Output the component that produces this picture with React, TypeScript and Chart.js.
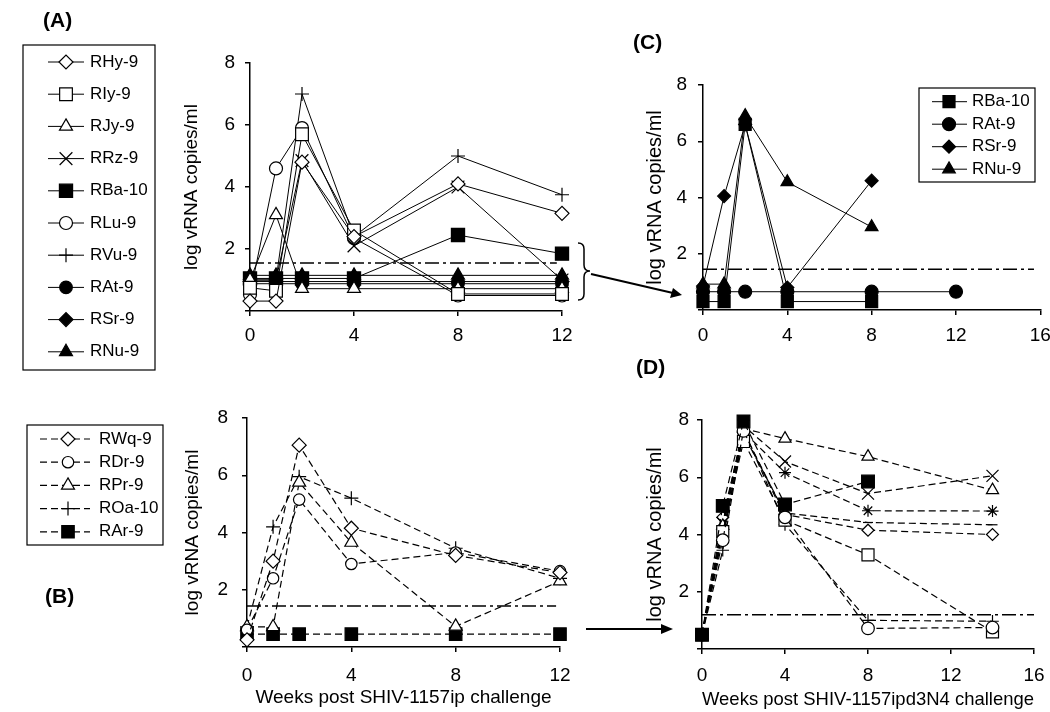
import React, { useEffect, useRef } from 'react';
import { Chart, registerables } from 'chart.js';
import { drawPoint } from 'chart.js/helpers';

Chart.register(...registerables);

const FONT = '"Liberation Sans", Arial, Helvetica, sans-serif';
Chart.defaults.font.family = FONT;
Chart.defaults.color = '#000';

// ---------------- Panel A (weeks 0-12) ----------------
const weeksA = [0, 1, 2, 4, 8, 12];
const namesA = ['RHy-9', 'RIy-9', 'RJy-9', 'RRz-9', 'RBa-10', 'RLu-9', 'RVu-9', 'RAt-9', 'RSr-9', 'RNu-9'];
const A_RHy9 = [0.32, 0.32, 4.8, 2.4, 4.1, 3.15];
const A_RIy9 = [0.75, 0.65, 5.7, 2.6, 0.55, 0.55];
const A_RJy9 = [1.0, 3.1, 0.72, 0.72, 0.72, 0.72];
const A_RRz9 = [1.0, 1.0, 4.85, 2.1, 4.0, 1.0];
const A_RBa10 = [1.05, 1.05, 1.05, 1.05, 2.45, 1.85];
const A_RLu9 = [0.53, 4.6, 5.9, 2.35, 0.5, 0.5];
const A_RVu9 = [1.0, 1.0, 7.0, 2.4, 5.0, 3.75];
const A_RAt9 = [0.88, 0.88, 0.88, 0.88, 0.88, 0.88];
const A_RSr9 = [0.95, 0.95, 0.95, 0.95, 0.95, 0.95];
const A_RNu9 = [1.15, 1.15, 1.15, 1.15, 1.15, 1.15];
const limitA = 1.55;
const limitA_x = [0, 11.8];

// ---------------- Panel B (weeks 0-12) ----------------
const weeksB = [0, 1, 2, 4, 8, 12];
const namesB = ['RWq-9', 'RDr-9', 'RPr-9', 'ROa-10', 'RAr-9'];
const B_RWq9 = [0.25, 3.0, 7.05, 4.15, 3.2, 2.6];
const B_RDr9 = [0.6, 2.4, 5.15, 2.9, 3.3, 2.65];
const B_RPr9 = [0.7, 0.7, 5.75, 3.65, 0.72, 2.3];
const B_ROa10 = [0.7, 4.2, 5.95, 5.2, 3.45, 2.4];
const B_RAr9 = [0.45, 0.45, 0.45, 0.45, 0.45, 0.45];
const limitB = 1.43;
const limitB_x = [0, 11.85];

// ---------------- Panel C (weeks 0-16) ----------------
const weeksC = [0, 1, 2, 4, 8, 12];
const namesC = ['RBa-10', 'RAt-9', 'RSr-9', 'RNu-9'];
const C_RBa10 = [0.3, 0.3, 6.6, 0.3, 0.3, null];
const C_RAt9 = [0.65, 0.65, 0.65, 0.65, 0.65, 0.65];
const C_RSr9 = [0.85, 4.05, 6.6, 0.8, 4.6, null];
const C_RNu9 = [0.92, 0.92, 6.9, 4.55, 2.95, null];
const limitC = 1.45;
const limitC_x = [0, 15.7];

// ---------------- Panel D (weeks 0-16) ----------------
const weeksD = [0, 1, 2, 4, 8, 14];
const D_fsquare = [0.5, 5.0, 7.95, 5.05, 5.85, null];
const D_tri = [0.5, 4.3, 7.7, 7.35, 6.72, 5.55];
const D_x = [0.5, 4.4, 7.8, 6.55, 5.43, 6.05];
const D_star = [0.5, 4.2, 7.6, 6.16, 4.83, 4.82];
const D_dash = [0.5, 4.0, 7.5, 4.75, 4.42, 4.34];
const D_diamond = [0.5, 4.6, 7.6, 4.7, 4.15, 4.0];
const D_square = [0.5, 4.1, 7.25, 4.5, 3.29, 0.6];
const D_circle = [0.5, 3.8, 7.62, 4.6, 0.72, 0.75];
const D_plus = [0.5, 3.45, 7.65, 4.35, 1.0, 0.97];
const limitD = 1.2;
const limitD_x = [0, 16];

const yTicks = [0, 2, 4, 6, 8];
const yTitle = 'log vRNA copies/ml';
const xTitleB = 'Weeks post SHIV-1157ip challenge';
const xTitleD = 'Weeks post SHIV-1157ipd3N4 challenge';

type Mk = { style: string; r: number; fill: boolean };

function series(label: string, xs: number[], ys: (number | null)[], m: Mk, dashed: boolean) {
  const data: any[] = [];
  xs.forEach((x, i) => {
    const y = ys[i];
    if (y !== null && y !== undefined) data.push({ x, y });
  });
  return {
    label,
    data,
    borderColor: '#000',
    borderWidth: dashed ? 1.2 : 1,
    borderDash: dashed ? [7, 4] : [],
    pointStyle: m.style,
    pointRadius: m.r,
    pointBorderWidth: 1.2,
    pointBackgroundColor: m.fill ? '#000' : '#fff',
    pointBorderColor: '#000',
    fill: false,
    tension: 0,
    clip: false,
    inLegend: true,
  };
}

function limitLine(y: number, xs: number[]) {
  return {
    label: 'limit',
    data: xs.map((x) => ({ x, y })),
    borderColor: '#000',
    borderWidth: 1.5,
    borderDash: [14, 4, 3, 4],
    pointRadius: 0,
    fill: false,
    clip: false,
    inLegend: false,
  };
}

const boxLegend = {
  id: 'boxLegend',
  afterDatasetsDraw(chart: any, _args: any, opts: any) {
    if (!opts || !opts.show) return;
    const ctx = chart.ctx;
    ctx.save();
    ctx.setLineDash([]);
    ctx.lineWidth = 1.2;
    ctx.strokeStyle = '#000';
    ctx.strokeRect(opts.x, opts.y, opts.w, opts.h);
    ctx.font = `${opts.fontSize}px ${FONT}`;
    ctx.textBaseline = 'middle';
    ctx.textAlign = 'left';
    let i = 0;
    chart.data.datasets.forEach((ds: any) => {
      if (!ds.inLegend) return;
      const y = opts.y0 + i * opts.dy;
      ctx.strokeStyle = '#000';
      ctx.setLineDash(ds.borderDash || []);
      ctx.lineWidth = ds.borderWidth;
      ctx.beginPath();
      ctx.moveTo(opts.lx0, y);
      ctx.lineTo(opts.lx1, y);
      ctx.stroke();
      ctx.setLineDash([]);
      ctx.lineWidth = ds.pointBorderWidth;
      ctx.fillStyle = ds.pointBackgroundColor;
      drawPoint(ctx, { pointStyle: ds.pointStyle, radius: ds.pointRadius, rotation: 0, borderWidth: ds.pointBorderWidth }, opts.mx, y);
      ctx.fillStyle = '#000';
      ctx.fillText(ds.label, opts.tx, y);
      i++;
    });
    ctx.restore();
  },
};

function scales(o: any) {
  const grid = { display: true, drawOnChartArea: false, drawTicks: true, tickLength: 5, color: '#000', lineWidth: 1.5 };
  const border = { display: true, color: '#000', width: 1.5 };
  return {
    x: {
      type: 'linear',
      min: 0,
      max: o.xMax,
      ticks: { stepSize: 4, padding: o.xTickPad, font: { size: 19 }, color: '#000', maxRotation: 0, autoSkip: false },
      grid,
      border,
      title: o.xTitle
        ? { display: true, text: o.xTitle, font: { size: 19 }, color: '#000', padding: { top: 0, bottom: 0 } }
        : { display: false },
      afterFit: (s: any) => {
        s.height = o.xHeight;
        s.paddingLeft = 0;
        s.paddingRight = 0;
      },
    },
    y: {
      type: 'linear',
      min: 0,
      max: 8,
      afterBuildTicks: (s: any) => {
        s.ticks = yTicks.map((v) => ({ value: v }));
      },
      ticks: {
        padding: o.yTickPad,
        font: { size: 19 },
        color: '#000',
        callback: (v: any) => (v === 0 ? '' : String(v)),
      },
      grid,
      border,
      title: { display: true, text: yTitle, font: { size: o.yTitleSize || 19 }, color: '#000', padding: { top: o.yTitlePad, bottom: 0 } },
      afterFit: (s: any) => {
        s.width = o.yWidth;
        s.paddingTop = 0;
        s.paddingBottom = 0;
      },
    },
  };
}

function makeConfig(datasets: any[], padding: any, sc: any, legendOpts: any) {
  return {
    type: 'line',
    data: { datasets },
    plugins: [boxLegend],
    options: {
      animation: false,
      responsive: false,
      devicePixelRatio: 1,
      events: [],
      layout: { padding },
      plugins: {
        legend: { display: false },
        tooltip: { enabled: false },
        boxLegend: legendOpts,
      },
      scales: sc,
    },
  };
}

const mk = {
  diamond: { style: 'rectRot', r: 7, fill: false },
  square: { style: 'rect', r: 9, fill: false },
  tri: { style: 'triangle', r: 7.5, fill: false },
  xcross: { style: 'crossRot', r: 9, fill: false },
  fsquare: { style: 'rect', r: 9.3, fill: true },
  circle: { style: 'circle', r: 6.5, fill: false },
  plus: { style: 'cross', r: 7, fill: false },
  fcircle: { style: 'circle', r: 6.3, fill: true },
  fdiamond: { style: 'rectRot', r: 7, fill: true },
  ftri: { style: 'triangle', r: 7.5, fill: true },
};

function configA() {
  const ds = [
    series(namesA[0], weeksA, A_RHy9, mk.diamond, false),
    series(namesA[1], weeksA, A_RIy9, mk.square, false),
    series(namesA[2], weeksA, A_RJy9, mk.tri, false),
    series(namesA[3], weeksA, A_RRz9, mk.xcross, false),
    series(namesA[4], weeksA, A_RBa10, mk.fsquare, false),
    series(namesA[5], weeksA, A_RLu9, mk.circle, false),
    series(namesA[6], weeksA, A_RVu9, mk.plus, false),
    series(namesA[7], weeksA, A_RAt9, mk.fcircle, false),
    series(namesA[8], weeksA, A_RSr9, mk.fdiamond, false),
    series(namesA[9], weeksA, A_RNu9, mk.ftri, false),
    limitLine(limitA, limitA_x),
  ];
  return makeConfig(
    ds,
    { left: 180, top: 63, right: 38, bottom: 27 },
    scales({ xMax: 12, xTickPad: 8, xHeight: 40, yTickPad: 10, yWidth: 70, yTitlePad: 0 }),
    { show: true, x: 23, y: 45, w: 132, h: 325, y0: 62, dy: 32.2, lx0: 48, lx1: 84, mx: 66, tx: 90, fontSize: 17 }
  );
}

function configB() {
  const ds = [
    series(namesB[0], weeksB, B_RWq9, { style: 'rectRot', r: 7, fill: false }, true),
    series(namesB[1], weeksB, B_RDr9, { style: 'circle', r: 5.7, fill: false }, true),
    series(namesB[2], weeksB, B_RPr9, { style: 'triangle', r: 7.5, fill: false }, true),
    series(namesB[3], weeksB, B_ROa10, { style: 'cross', r: 7, fill: false }, true),
    series(namesB[4], weeksB, B_RAr9, { style: 'rect', r: 8.8, fill: true }, true),
    limitLine(limitB, limitB_x),
  ];
  return makeConfig(
    ds,
    { left: 177, top: 38, right: 40, bottom: 3 },
    scales({ xMax: 12, xTickPad: 12, xHeight: 62, xTitle: xTitleB, yTickPad: 14, yWidth: 70, yTitlePad: 4.6 }),
    { show: true, x: 27, y: 45, w: 136, h: 120, y0: 59, dy: 23.2, lx0: 40, lx1: 90, mx: 68, tx: 99, fontSize: 17 }
  );
}

function configC() {
  const ds = [
    series(namesC[0], weeksC, C_RBa10, { style: 'rect', r: 8.5, fill: true }, false),
    series(namesC[1], weeksC, C_RAt9, { style: 'circle', r: 6.5, fill: true }, false),
    series(namesC[2], weeksC, C_RSr9, { style: 'rectRot', r: 6.5, fill: true }, false),
    series(namesC[3], weeksC, C_RNu9, { style: 'triangle', r: 7.3, fill: true }, false),
    limitLine(limitC, limitC_x),
  ];
  return makeConfig(
    ds,
    { left: 33, top: 85, right: 9, bottom: 28 },
    scales({ xMax: 16, xTickPad: 9, xHeight: 40, yTickPad: 11, yWidth: 70, yTitlePad: 10, yTitleSize: 20 }),
    { show: true, x: 319, y: 88, w: 116, h: 94, y0: 101.7, dy: 22.5, lx0: 332, lx1: 367, mx: 349, tx: 372, fontSize: 17 }
  );
}

function configD() {
  const ds = [
    series('Animal 1', weeksD, D_fsquare, { style: 'rect', r: 9, fill: true }, true),
    series('Animal 2', weeksD, D_circle, { style: 'circle', r: 6.3, fill: false }, true),
    series('Animal 3', weeksD, D_square, { style: 'rect', r: 8.5, fill: false }, true),
    series('Animal 4', weeksD, D_tri, { style: 'triangle', r: 7, fill: false }, true),
    series('Animal 5', weeksD, D_x, { style: 'crossRot', r: 8.5, fill: false }, true),
    series('Animal 6', weeksD, D_star, { style: 'star', r: 6, fill: false }, true),
    series('Animal 7', weeksD, D_diamond, { style: 'rectRot', r: 6, fill: false }, true),
    series('Animal 8', weeksD, D_dash, { style: 'line', r: 5, fill: false }, true),
    series('Animal 9', weeksD, D_plus, { style: 'cross', r: 6.3, fill: false }, true),
    limitLine(limitD, limitD_x),
  ];
  return makeConfig(
    ds,
    { left: 32, top: 40, right: 16, bottom: 1 },
    scales({ xMax: 16, xTickPad: 10, xHeight: 62, xTitle: xTitleD, yTickPad: 8, yWidth: 70, yTitlePad: 11, yTitleSize: 20 }),
    { show: false }
  );
}

function Panel({ left, top, width, height, make }: any) {
  const ref = useRef<HTMLCanvasElement | null>(null);
  useEffect(() => {
    if (!ref.current) return;
    const chart = new Chart(ref.current, make() as any);
    return () => chart.destroy();
  }, []);
  return (
    <canvas
      ref={ref}
      width={width}
      height={height}
      style={{ position: 'absolute', left, top, width, height }}
    />
  );
}

const labelStyle: any = {
  position: 'absolute',
  fontFamily: FONT,
  fontWeight: 'bold',
  fontSize: 21,
  lineHeight: '21px',
  color: '#000',
  margin: 0,
  whiteSpace: 'nowrap',
};

export default function App() {
  return (
    <div style={{ position: 'absolute', left: 0, top: 0, width: 1050, height: 712, background: '#fff', overflow: 'hidden' }}>
      <Panel left={0} top={0} width={600} height={378} make={configA} />
      <Panel left={0} top={380} width={600} height={332} make={configB} />
      <Panel left={600} top={0} width={450} height={378} make={configC} />
      <Panel left={600} top={380} width={450} height={332} make={configD} />
      <div style={{ ...labelStyle, left: 43, top: 9 }}>(A)</div>
      <div style={{ ...labelStyle, left: 45, top: 585 }}>(B)</div>
      <div style={{ ...labelStyle, left: 633, top: 31 }}>(C)</div>
      <div style={{ ...labelStyle, left: 636, top: 356 }}>(D)</div>
      <svg width={1050} height={712} style={{ position: 'absolute', left: 0, top: 0, pointerEvents: 'none' }}>
        <path
          d="M578,243 Q584,243 584,249 L584,265 Q584,271 590,271 Q584,271 584,277 L584,294 Q584,300 578,300"
          fill="none"
          stroke="#000"
          strokeWidth={1.5}
        />
        <line x1={591} y1={274} x2={673} y2={293} stroke="#000" strokeWidth={2} />
        <polygon points="682,295 670,298 673,288" fill="#000" />
        <line x1={586} y1={629} x2={663} y2={629} stroke="#000" strokeWidth={1.8} />
        <polygon points="673,629 661,624 661,634" fill="#000" />
      </svg>
    </div>
  );
}
